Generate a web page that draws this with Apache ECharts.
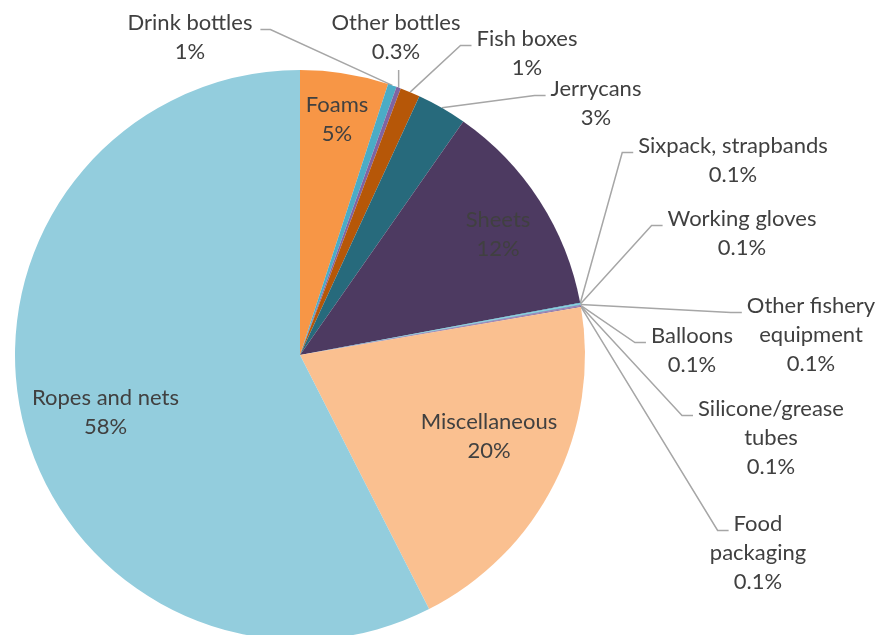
<!DOCTYPE html>
<html><head><meta charset="utf-8">
<script src="https://cdn.jsdelivr.net/npm/echarts@6/dist/echarts.min.js"></script>
<style>html,body{margin:0;padding:0;background:#fff}#c{width:883px;height:635px}</style>
</head><body><div id="c"></div>
<script>
// ---- data ----
const categories = ['Foams', 'Drink bottles', 'Other bottles', 'Fish boxes', 'Jerrycans', 'Sheets',
  'Sixpack, strapbands', 'Working gloves', 'Other fishery\nequipment', 'Balloons',
  'Silicone/grease\ntubes', 'Food\npackaging', 'Miscellaneous', 'Ropes and nets'];
const values = [5.0, 0.5, 0.25, 1.13, 2.83, 12.36, 0.04, 0.04, 0.04, 0.04, 0.04, 0.04, 20.21, 57.48];
const percentLabels = ['5%', '1%', '0.3%', '1%', '3%', '12%', '0.1%', '0.1%', '0.1%', '0.1%', '0.1%', '0.1%', '20%', '58%'];

// ---- styles / layout ----
const colors = ['#F79646', '#4BACC6', '#8064A2', '#B65708', '#276A7C', '#4D3A61',
  '#4BACC6', '#7FC8DA', '#4BACC6', '#8064A2', '#8064A2', '#6E5494', '#FAC090', '#93CDDD'];
// [centre x of text, middle y of first line, leader attach side]
const labelSpots = [
  [337, 104.5, 'inside'], [190, 22.5, 'right'], [396, 22.5, 'bottom'], [527, 38.5, 'left'],
  [596, 88.5, 'left'], [498, 219.5, 'inside'], [733, 145.5, 'left'], [742, 218.5, 'left'],
  [811, 305.5, 'left'], [692, 335.5, 'left'], [771, 408.5, 'left'], [758, 523.5, 'left'],
  [489, 421.5, 'inside'], [105.5, 397.5, 'inside']
];
const FONT_FAMILY = 'Lato';
const FONT_SIZE = 22;
const LINE_H = 29;
const TEXT_COLOR = '#404040';

const measureCtx = document.createElement('canvas').getContext('2d');
function textWidth(t) {
  measureCtx.font = FONT_SIZE + 'px ' + FONT_FAMILY;
  return measureCtx.measureText(t).width;
}

const chart = echarts.init(document.getElementById('c'), null, { renderer: 'canvas' });
const data = categories.map((name, i) => {
  const inside = labelSpots[i][2] === 'inside';
  return {
    name: name,
    value: values[i],
    itemStyle: { color: colors[i] },
    label: { position: inside ? 'inside' : 'outside' },
    labelLine: { show: !inside }
  };
});

chart.setOption({
  animation: false,
  series: [{
    type: 'pie',
    center: [300, 355],
    radius: 285,
    startAngle: 90,
    clockwise: true,
    avoidLabelOverlap: false,
    itemStyle: { borderWidth: 0 },
    emphasis: { disabled: true },
    label: {
      color: TEXT_COLOR,
      fontFamily: FONT_FAMILY,
      fontSize: FONT_SIZE,
      lineHeight: LINE_H,
      align: 'center',
      overflow: 'none',
      formatter: p => categories[p.dataIndex] + '\n' + percentLabels[p.dataIndex]
    },
    labelLine: {
      show: true,
      length: 10,
      length2: 10,
      lineStyle: { color: '#A6A6A6', width: 1.5 }
    },
    labelLayout: function (params) {
      const i = params.dataIndex;
      const s = labelSpots[i];
      const top = s[1] - LINE_H / 2;
      const res = { x: s[0], y: top, align: 'center', verticalAlign: 'top' };
      if (s[2] !== 'inside' && params.labelLinePoints) {
        const start = params.labelLinePoints[0];
        const lines = (categories[i] + '\n' + percentLabels[i]).split('\n');
        const w = textWidth(lines[0]);
        const ay = s[1] + 7;
        let pts;
        if (s[2] === 'left') {
          const ax = s[0] - w / 2 - 5;
          pts = [start, [ax - 11, ay], [ax, ay]];
        } else if (s[2] === 'right') {
          const ax = s[0] + w / 2 + 8;
          pts = [start, [ax + 10, ay], [ax, ay]];
        } else {
          const by = top + lines.length * LINE_H + 4;
          pts = [start, [start[0], by + 1], [start[0], by]];
        }
        res.labelLinePoints = pts;
      }
      return res;
    },
    data: data
  }]
});
</script>
</body></html>
